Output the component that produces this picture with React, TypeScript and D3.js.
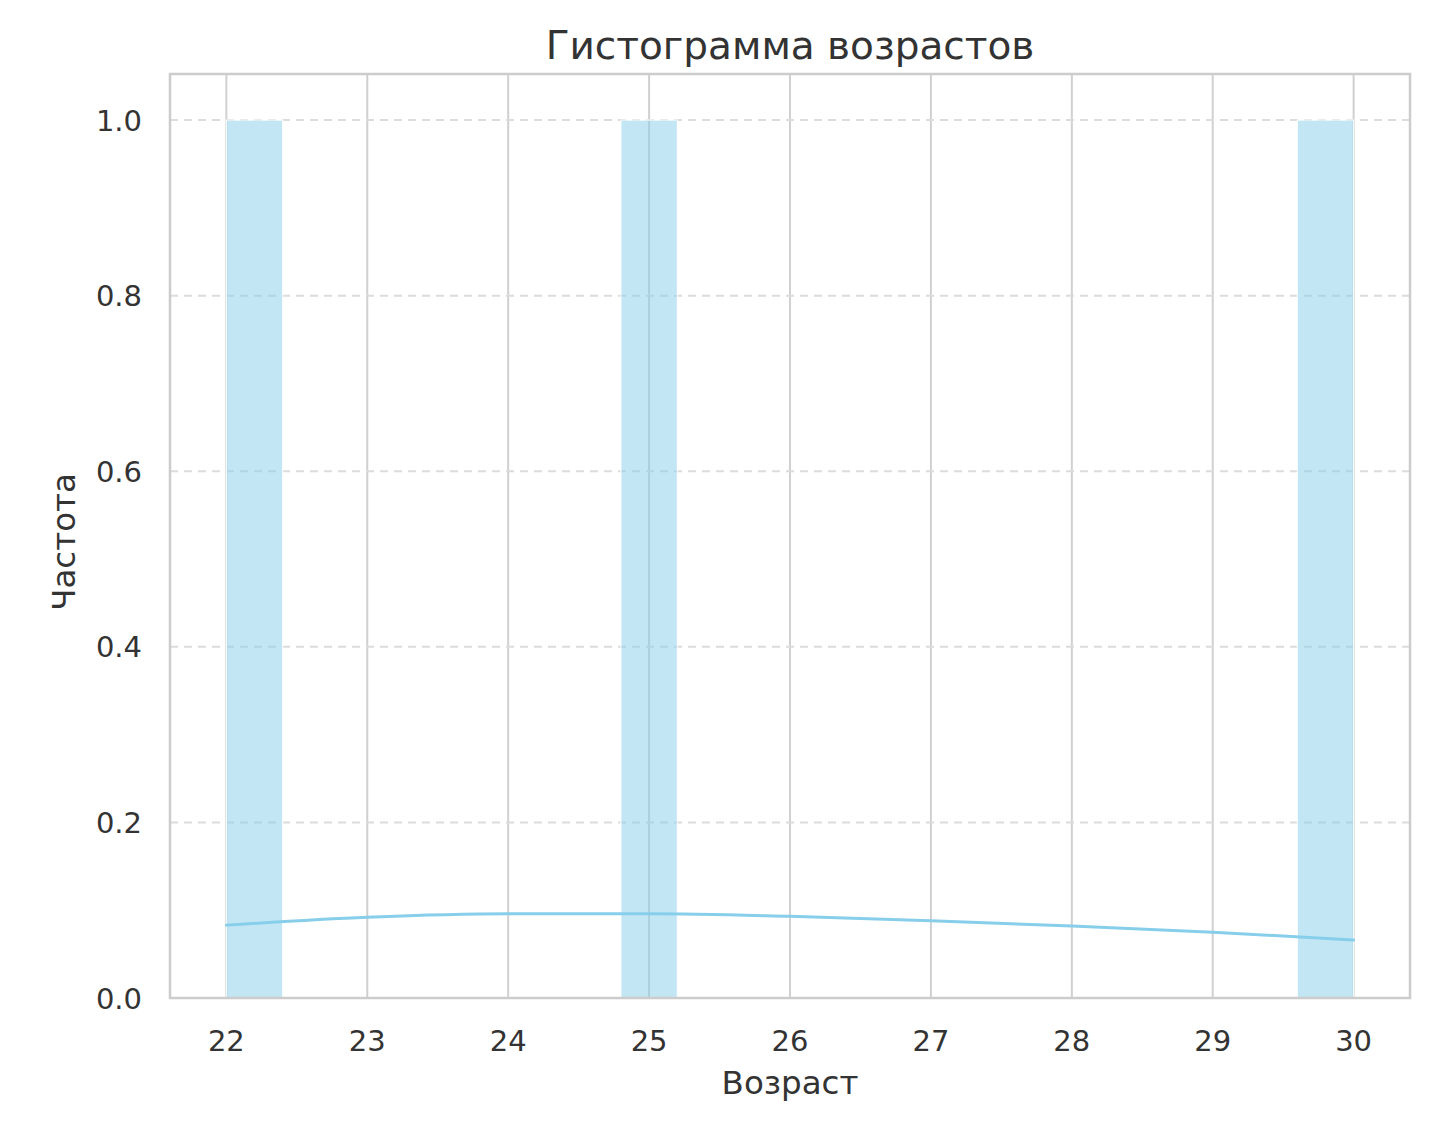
import { useRef, useEffect } from 'react'
import * as d3 from 'd3'

// raw observations
const ages = [22, 25, 30]
const binCount = 20

// kde curve (scaled to counts)
const kdeX = [22, 23, 24, 25, 26, 27, 28, 29, 30]
const kdeY = [0.083, 0.092, 0.096, 0.096, 0.093, 0.088, 0.082, 0.075, 0.066]

const xTicks = [22, 23, 24, 25, 26, 27, 28, 29, 30]
const yTicks = [0, 0.2, 0.4, 0.6, 0.8, 1.0]

const title = 'Гистограмма возрастов'
const xLabel = 'Возраст'
const yLabel = 'Частота'

const W = 1454
const H = 1131
const margin = { top: 74, right: 44, bottom: 133, left: 170 }
const FONT = 'DejaVu Sans, sans-serif'
const BAR = '#87CEEB'

export default function App() {
  const svgRef = useRef<SVGSVGElement>(null)

  useEffect(() => {
    document.body.style.margin = '0'
    if (!svgRef.current) return
    const svg = d3.select(svgRef.current)
    svg.selectAll('*').remove()
    svg.attr('width', W).attr('height', H)

    const x0 = margin.left
    const x1 = W - margin.right
    const y0 = H - margin.bottom
    const y1 = margin.top

    const x = d3.scaleLinear().domain([21.6, 30.4]).range([x0, x1])
    const y = d3.scaleLinear().domain([0, 1.0525]).range([y0, y1])

    svg.append('rect').attr('width', W).attr('height', H).attr('fill', '#fff')

    // grid
    const grid = svg.append('g')
    grid
      .selectAll('line.v')
      .data(xTicks)
      .join('line')
      .attr('x1', (d) => x(d))
      .attr('x2', (d) => x(d))
      .attr('y1', y0)
      .attr('y2', y1)
      .attr('stroke', '#d0d0d0')
      .attr('stroke-width', 2)
    grid
      .selectAll('line.h')
      .data(yTicks.slice(1))
      .join('line')
      .attr('x1', x0)
      .attr('x2', x1)
      .attr('y1', (d) => y(d))
      .attr('y2', (d) => y(d))
      .attr('stroke', '#dcdcdc')
      .attr('stroke-width', 2)
      .attr('stroke-dasharray', '8,6')

    // histogram
    const [lo, hi] = d3.extent(ages) as [number, number]
    const step = (hi - lo) / binCount
    const bins = d3
      .bin()
      .domain([lo, hi])
      .thresholds(d3.range(1, binCount).map((i) => lo + i * step))(ages)
      .filter((b) => b.length > 0)

    svg
      .append('g')
      .selectAll('rect')
      .data(bins)
      .join('rect')
      .attr('x', (b) => x(b.x0!))
      .attr('width', (b) => x(b.x1!) - x(b.x0!))
      .attr('y', (b) => y(b.length))
      .attr('height', (b) => y0 - y(b.length))
      .attr('fill', BAR)
      .attr('fill-opacity', 0.5)
      .attr('stroke', '#fff')
      .attr('stroke-width', 1)

    // kde
    const line = d3
      .line<number>()
      .x((_, i) => x(kdeX[i]))
      .y((d) => y(d))
      .curve(d3.curveMonotoneX)
    svg
      .append('path')
      .attr('d', line(kdeY) ?? '')
      .attr('fill', 'none')
      .attr('stroke', BAR)
      .attr('stroke-width', 3)
      .attr('stroke-linecap', 'round')

    // spines
    svg
      .append('rect')
      .attr('x', x0)
      .attr('y', y1)
      .attr('width', x1 - x0)
      .attr('height', y0 - y1)
      .attr('fill', 'none')
      .attr('stroke', '#cccccc')
      .attr('stroke-width', 2.5)

    // tick labels
    svg
      .append('g')
      .selectAll('text')
      .data(xTicks)
      .join('text')
      .attr('x', (d) => x(d))
      .attr('y', y0 + 53)
      .attr('text-anchor', 'middle')
      .attr('font-family', FONT)
      .attr('font-size', 29)
      .attr('fill', '#333')
      .text((d) => d3.format('d')(d))

    svg
      .append('g')
      .selectAll('text')
      .data(yTicks)
      .join('text')
      .attr('x', 142)
      .attr('y', (d) => y(d) + 10.5)
      .attr('text-anchor', 'end')
      .attr('font-family', FONT)
      .attr('font-size', 29)
      .attr('fill', '#333')
      .text((d) => d3.format('.1f')(d))

    // labels
    svg
      .append('text')
      .attr('x', (x0 + x1) / 2)
      .attr('y', 59)
      .attr('text-anchor', 'middle')
      .attr('font-family', FONT)
      .attr('font-size', 39)
      .attr('fill', '#333')
      .text(title)

    svg
      .append('text')
      .attr('x', (x0 + x1) / 2)
      .attr('y', 1094)
      .attr('text-anchor', 'middle')
      .attr('font-family', FONT)
      .attr('font-size', 32.5)
      .attr('fill', '#333')
      .text(xLabel)

    svg
      .append('text')
      .attr('transform', `translate(75, ${(y0 + y1) / 2 + 6}) rotate(-90)`)
      .attr('text-anchor', 'middle')
      .attr('font-family', FONT)
      .attr('font-size', 32.5)
      .attr('fill', '#333')
      .text(yLabel)

    return () => {
      svg.selectAll('*').remove()
    }
  }, [])

  return <svg ref={svgRef} style={{ display: 'block' }} />
}
